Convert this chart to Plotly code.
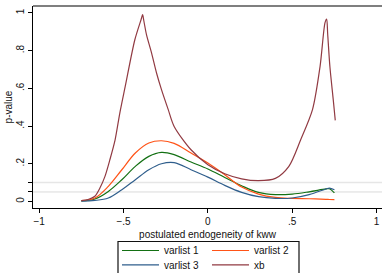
import plotly.graph_objects as go

# ---- data ----
x_common = [-0.75, -0.67, -0.59, -0.51, -0.43, -0.35, -0.275, -0.2, -0.1, 0.0,
            0.1, 0.2, 0.3, 0.4, 0.5, 0.6, 0.7, 0.72, 0.75]
varlist1 = [0.003, 0.013, 0.053, 0.115, 0.186, 0.239, 0.26, 0.248, 0.209, 0.172,
            0.127, 0.083, 0.048, 0.036, 0.039, 0.051, 0.066, 0.067, 0.045]
varlist2 = [0.004, 0.018, 0.08, 0.168, 0.257, 0.31, 0.322, 0.308, 0.257, 0.204,
            0.142, 0.076, 0.039, 0.021, 0.016, 0.014, 0.011, 0.010, 0.009]
varlist3 = [0.002, 0.005, 0.018, 0.062, 0.115, 0.168, 0.2, 0.206, 0.168, 0.129,
            0.085, 0.048, 0.025, 0.016, 0.018, 0.036, 0.066, 0.071, 0.062]

x_xb = [-0.75, -0.71, -0.67, -0.64, -0.61, -0.581, -0.55, -0.522, -0.49, -0.433,
        -0.395, -0.387, -0.38, -0.364, -0.334, -0.304, -0.275, -0.235, -0.2, -0.1,
        0.0, 0.1, 0.2, 0.3, 0.4, 0.48, 0.55, 0.62, 0.665, 0.694, 0.704, 0.71,
        0.723, 0.743, 0.755]
xb = [0.004, 0.01, 0.027, 0.071, 0.133, 0.221, 0.327, 0.469, 0.61, 0.858,
      0.968, 0.991, 0.96, 0.885, 0.788, 0.68, 0.593, 0.487, 0.398, 0.274,
      0.195, 0.147, 0.12, 0.11, 0.122, 0.186, 0.327, 0.487, 0.717, 0.947, 0.968, 0.89,
      0.717, 0.54, 0.43]

ref_lines = [0.1, 0.05]

x_tickvals = [-1, -0.5, 0, 0.5, 1]
x_ticktext = ["\u22121", "\u2212.5", "0", ".5", "1"]
y_tickvals = [0, 0.05, 0.1, 0.2, 0.4, 0.6, 0.8, 1]
y_ticktext = ["0", "", "", ".2", ".4", ".6", ".8", "1"]

FONT = "Liberation Sans, Arial, sans-serif"
c_green = "#137013"
c_orange = "#ff5317"
c_blue = "#2f5e8c"
c_maroon = "#913a42"

fig = go.Figure()
fig.add_trace(go.Scatter(x=x_common, y=varlist1, mode="lines", name="varlist 1",
                         line=dict(color=c_green, width=1.2, shape="spline"), legend="legend"))
fig.add_trace(go.Scatter(x=x_common, y=varlist2, mode="lines", name="varlist 2",
                         line=dict(color=c_orange, width=1.2, shape="spline"), legend="legend"))
fig.add_trace(go.Scatter(x=x_common, y=varlist3, mode="lines", name="varlist 3",
                         line=dict(color=c_blue, width=1.2, shape="spline"), legend="legend2"))
fig.add_trace(go.Scatter(x=x_xb, y=xb, mode="lines", name="xb",
                         line=dict(color=c_maroon, width=1.2, shape="spline", smoothing=0.8),
                         legend="legend2"))

shapes = []
for i, yv in enumerate(ref_lines):
    shapes.append(dict(type="line", xref="paper", yref="y", x0=0, x1=1, y0=yv, y1=yv,
                       line=dict(color="#e6e6e6" if i == 0 else "#dadada", width=1.6 if i == 0 else 1),
                       layer="below"))
# top frame line
shapes.append(dict(type="line", xref="paper", yref="paper", x0=0, x1=1, y0=1, y1=1,
                   line=dict(color="#555555", width=1.6)))
# legend box
W, H = 382, 273
L, R, T, B = 33, 0, 6, 65
pw, ph = W - L - R, H - T - B
def px_x(p):
    return (p - L) / pw
def px_y(p):
    return (H - B - p) / ph
shapes.append(dict(type="rect", xref="paper", yref="paper",
                   x0=px_x(118), x1=px_x(299), y0=px_y(285), y1=px_y(241.5),
                   line=dict(color="#111111", width=1.2), fillcolor="white", layer="below"))

leg_common = dict(orientation="h", xanchor="left", yanchor="middle",
                  font=dict(family=FONT, size=10, color="#111111"),
                  bgcolor="rgba(0,0,0,0)", borderwidth=0,
                  entrywidth=38, entrywidthmode="pixels", itemwidth=37,
                  itemclick=False, itemdoubleclick=False)

fig.update_layout(
    width=W, height=H,
    margin=dict(l=L, r=R, t=T, b=B, autoexpand=False),
    paper_bgcolor="white", plot_bgcolor="white",
    font=dict(family=FONT, size=10, color="#111111"),
    showlegend=True,
    legend=dict(x=px_x(117), y=px_y(250.5), **leg_common),
    legend2=dict(x=px_x(117), y=px_y(264.8), **leg_common),
    shapes=shapes,
    xaxis=dict(range=[-1.0366, 1.032], tickvals=x_tickvals, ticktext=x_ticktext,
               automargin=False,
               showgrid=False, zeroline=False, showline=True, linecolor="#000000", linewidth=1.2,
               ticks="outside", ticklen=4, tickcolor="#000000", tickwidth=1,
               tickfont=dict(family=FONT, size=10, color="#111111"),
               title=dict(text="postulated endogeneity of kww", standoff=4,
                          font=dict(family=FONT, size=10, color="#111111"))),
    yaxis=dict(range=[-0.035, 1.037], tickvals=y_tickvals, ticktext=y_ticktext,
               automargin=False,
               showgrid=False, zeroline=False, showline=True, linecolor="#000000", linewidth=1.2,
               ticks="outside", ticklen=4, tickcolor="#000000", tickwidth=1, tickangle=-90,
               tickfont=dict(family=FONT, size=10, color="#111111"),
               title=dict(text="p-value", standoff=0,
                          font=dict(family=FONT, size=10, color="#111111"))),
)

fig.write_html("out.html", config={"displayModeBar": False},
               post_script="document.body.style.margin='0';")
